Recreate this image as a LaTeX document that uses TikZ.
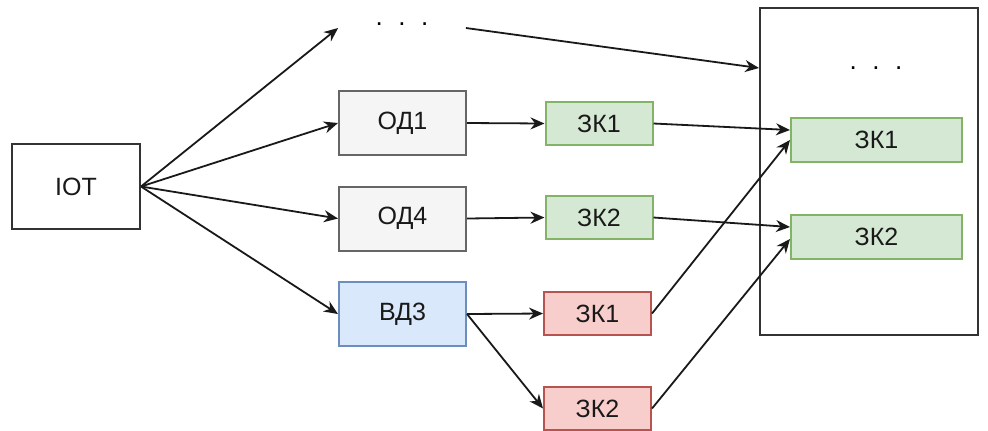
\documentclass[tikz,border=0pt]{standalone}
\usepackage{fontspec}
\setmainfont{Liberation Sans}
\usepackage{xcolor}
\usepackage{tikz}
\usetikzlibrary{arrows.meta,positioning,calc}

\definecolor{grayfill}{HTML}{F5F5F5}
\definecolor{grayline}{HTML}{666666}
\definecolor{bluefill}{HTML}{DAE8FC}
\definecolor{blueline}{HTML}{6C8EBF}
\definecolor{greenfill}{HTML}{D5E8D4}
\definecolor{greenline}{HTML}{82B366}
\definecolor{redfill}{HTML}{F8CECC}
\definecolor{redline}{HTML}{B85450}
\definecolor{darkline}{HTML}{333333}

\begin{document}
\begin{tikzpicture}[x=0.5pt, y=-0.5pt,
    box/.style={rectangle, draw, line width=1pt, minimum width=63.5pt, minimum height=32pt, align=center, font=\fontsize{12.5}{15}\selectfont, text=black!90},
    key/.style={box, minimum width=53.5pt, minimum height=21.5pt},
    bigkey/.style={box, minimum width=85.5pt, minimum height=22pt, draw=greenline, fill=greenfill},
    dots/.style={rectangle, minimum width=63.5pt, font=\fontsize{13}{15}\selectfont, inner sep=0pt},
    link/.style={-{Stealth[length=7pt,width=6pt]}, line width=0.9pt, black!90}
]
    \useasboundingbox (0,0) rectangle (988,430);

    % Target store
    \node[box, draw=darkline, minimum width=109pt, minimum height=163.5pt] (store) at (869,171.5) {};
    \node[dots] (innerdots) at (876,68) {.\hspace{0.6em}.\hspace{0.6em}.};
    \node[bigkey] (bk1) at (876.5,140) {ЗК1};
    \node[bigkey] (bk2) at (876.5,237) {ЗК2};

    % Source
    \node[box, draw=darkline, minimum width=64pt, minimum height=42.5pt] (iot) at (76,186.5) {IOT};

    % Data sets
    \node[dots] (topdots) at (402,24) {.\hspace{0.6em}.\hspace{0.6em}.};
    \node[box, draw=grayline, fill=grayfill] (od1) at (402.5,123) {ОД1};
    \node[box, draw=grayline, fill=grayfill] (od4) at (402.5,218.5) {ОД4};
    \node[box, draw=blueline, fill=bluefill] (vd3) at (402.5,314) {ВД3};

    % Keys
    \node[key, draw=greenline, fill=greenfill] (gk1) at (599,123.5) {ЗК1};
    \node[key, draw=greenline, fill=greenfill] (gk2) at (599,217.5) {ЗК2};
    \node[key, draw=redline, fill=redfill] (rk1) at (597.5,313.5) {ЗК1};
    \node[key, draw=redline, fill=redfill] (rk2) at (597.5,408.5) {ЗК2};

    % Links
    \draw[link] (iot.east) -- ([yshift=-2pt]topdots.west);
    \draw[link] (iot.east) -- (od1.west);
    \draw[link] (iot.east) -- (od4.west);
    \draw[link] (iot.east) -- (vd3.west);
    \draw[link] ([yshift=-2pt]topdots.east) -- (store.west |- innerdots);
    \draw[link] (od1.east) -- (gk1.west);
    \draw[link] (od4.east) -- (gk2.west);
    \draw[link] (vd3.east) -- (rk1.west);
    \draw[link] (vd3.east) -- (rk2.west);
    \draw[link] (gk1.east) -- ([yshift=5pt]bk1.west);
    \draw[link] (gk2.east) -- ([yshift=5pt]bk2.west);
    \draw[link] (rk1.east) -- (bk1.west);
    \draw[link] (rk2.east) -- ([yshift=-1pt]bk2.west);
\end{tikzpicture}
\end{document}
